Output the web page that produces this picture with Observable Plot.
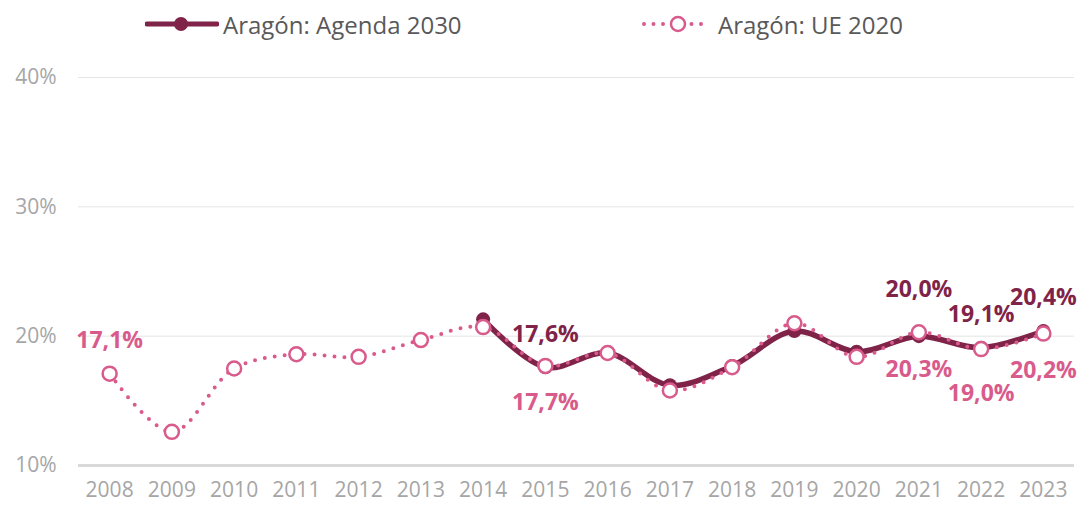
<!DOCTYPE html>
<html>
<head>
<meta charset="utf-8">
<script src="https://cdn.jsdelivr.net/npm/d3@7"></script>
<script src="https://cdn.jsdelivr.net/npm/@observablehq/plot@0.6"></script>
<style>
  html, body { margin: 0; padding: 0; background: #fff; }
  #wrap { width: 1083px; height: 505px; position: relative; overflow: hidden; font-family: "Open Sans", sans-serif; }
  #legend { height: 48px; position: relative; }
  .lg { position: absolute; top: 0; height: 48px; display: flex; align-items: center; font-size: 24px; color: #595959; }
  .lg svg { margin-right: 4px; }
</style>
</head>
<body>
<div id="wrap">
  <div id="legend"></div>
  <div id="chart"></div>
</div>
<script>
const years = [2008, 2009, 2010, 2011, 2012, 2013, 2014, 2015, 2016, 2017, 2018, 2019, 2020, 2021, 2022, 2023];
const ue2020 = [17.1, 12.6, 17.5, 18.6, 18.4, 19.7, 20.7, 17.7, 18.7, 15.8, 17.6, 21.0, 18.4, 20.3, 19.0, 20.2];
const agendaYears = [2014, 2015, 2016, 2017, 2018, 2019, 2020, 2021, 2022, 2023];
const agenda2030 = [21.3, 17.6, 18.7, 16.2, 17.7, 20.4, 18.8, 20.0, 19.1, 20.4];
const yTicks = [10, 20, 30, 40];
const seriesNames = ["Aragón: Agenda 2030", "Aragón: UE 2020"];
const colors = ["#7f2349", "#d95b8c"];
// labelled points: year, series index, placement
const labelYears = [2008, 2015, 2015, 2021, 2021, 2022, 2022, 2023, 2023];
const labelSeries = [1, 0, 1, 0, 1, 0, 1, 0, 1];
const labelPlace = ["above", "above", "below", "high", "below", "above", "low", "above", "below"];

const ueData = years.map((y, i) => ({year: y, value: ue2020[i]}));
const agData = agendaYears.map((y, i) => ({year: y, value: agenda2030[i]}));
const fmt = v => v.toFixed(1).replace(".", ",") + "%";
const placeDy = {above: -33, high: -47, below: 37, low: 45};
const labels = labelYears.map((y, i) => {
  const s = labelSeries[i];
  const v = s === 0 ? agenda2030[agendaYears.indexOf(y)] : ue2020[years.indexOf(y)];
  return {year: y, value: v, text: fmt(v), series: s, place: labelPlace[i]};
});

// legend
const legend = document.getElementById("legend");
legend.innerHTML = `
  <div class="lg" style="left:145px">
    <svg width="74" height="20"><line x1="2" y1="10" x2="72" y2="10" stroke="${colors[0]}" stroke-width="5" stroke-linecap="round"/><circle cx="36" cy="10" r="7" fill="${colors[0]}"/></svg>
    <span>${seriesNames[0]}</span>
  </div>
  <div class="lg" style="left:640px">
    <svg width="74" height="20"><line x1="4" y1="10" x2="70" y2="10" stroke="${colors[1]}" stroke-width="4" stroke-linecap="round" stroke-dasharray="0,9.5"/><circle cx="38" cy="10" r="7" fill="white" stroke="${colors[1]}" stroke-width="2.5"/></svg>
    <span>${seriesNames[1]}</span>
  </div>`;

const chart = Plot.plot({
  width: 1083,
  height: 457,
  marginTop: 29,
  marginBottom: 40,
  marginLeft: 78,
  marginRight: 9,
  style: {fontFamily: "Open Sans, sans-serif", fontSize: "21px", color: "#a6a6a6", background: "white"},
  x: {domain: [2007.5, 2023.5], ticks: years, tickFormat: d => String(d), tickSize: 0, tickPadding: 17, label: null},
  y: {domain: [10, 40], ticks: yTicks, tickFormat: d => d + "%", tickSize: 0, tickPadding: 22, label: null},
  marks: [
    Plot.ruleY(yTicks.filter(t => t > 10), {stroke: "#e4e4e4", strokeWidth: 1}),
    Plot.ruleY([10], {stroke: "#d9d9d9", strokeWidth: 3}),
    Plot.line(agData, {x: "year", y: "value", stroke: colors[0], strokeWidth: 5.5, curve: "catmull-rom"}),
    Plot.line(ueData, {x: "year", y: "value", stroke: colors[1], strokeWidth: 4, strokeLinecap: "round", strokeDasharray: "0,10", curve: "catmull-rom"}),
    Plot.dot(agData, {x: "year", y: "value", r: 7, fill: colors[0]}),
    Plot.dot(ueData, {x: "year", y: "value", r: 7, fill: "white", stroke: colors[1], strokeWidth: 2.5}),
    ...Object.keys(placeDy).map(p =>
      Plot.text(labels.filter(d => d.place === p), {
        x: "year", y: "value", text: "text", dy: placeDy[p],
        fill: d => colors[d.series], fontWeight: "bold", fontSize: 23
      })
    )
  ]
});
document.getElementById("chart").appendChild(chart);
</script>
</body>
</html>
